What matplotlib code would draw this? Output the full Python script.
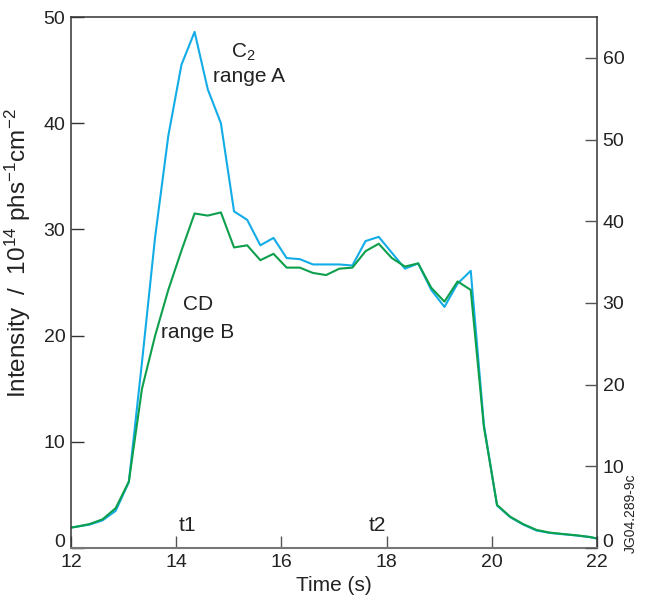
import matplotlib
matplotlib.use("Agg")
import matplotlib.pyplot as plt
import matplotlib.transforms as mtransforms

plt.rcParams['font.family'] = ['Liberation Sans', 'DejaVu Sans']
plt.rcParams['mathtext.fontset'] = 'custom'
plt.rcParams['mathtext.rm'] = 'Liberation Sans'
plt.rcParams['mathtext.it'] = 'Liberation Sans:italic'

# time base (s)
time = [11.85, 12.1, 12.35, 12.6, 12.85, 13.1, 13.35, 13.6, 13.85, 14.1,
        14.35, 14.6, 14.85, 15.1, 15.35, 15.6, 15.85, 16.1, 16.35, 16.6,
        16.85, 17.1, 17.35, 17.6, 17.85, 18.1, 18.35, 18.6, 18.85, 19.1,
        19.35, 19.6, 19.85, 20.1, 20.35, 20.6, 20.85, 21.1, 21.35, 21.6,
        21.85, 22.1]

# C2, range A
c2 = [1.8, 2.0, 2.2, 2.6, 3.5, 6.2, 17.5, 29.3, 38.8, 45.5,
      48.6, 43.2, 40.0, 31.7, 30.9, 28.5, 29.2, 27.3, 27.2, 26.7,
      26.7, 26.7, 26.6, 28.9, 29.3, 27.8, 26.3, 26.8, 24.3, 22.7,
      24.9, 26.1, 11.6, 4.0, 2.9, 2.2, 1.65, 1.42, 1.3, 1.18,
      1.03, 0.8]

# CD, range B
cd = [1.8, 2.0, 2.25, 2.7, 3.75, 6.25, 15.0, 20.0, 24.3, 28.0,
      31.5, 31.3, 31.6, 28.3, 28.5, 27.1, 27.7, 26.4, 26.4, 25.9,
      25.7, 26.3, 26.4, 27.95, 28.65, 27.3, 26.5, 26.8, 24.5, 23.2,
      25.1, 24.3, 11.4, 4.05, 2.95, 2.24, 1.7, 1.45, 1.32, 1.2,
      1.05, 0.8]

left_ticks = [0, 10, 20, 30, 40, 50]
right_ticks = [0, 10, 20, 30, 40, 50, 60]
x_ticks = [12, 14, 16, 18, 20, 22]

blue = '#12ACE6'
green = '#0E9F4C'
txt = '#222222'

fig = plt.figure(figsize=(6.47, 6.01), dpi=100)
ax = fig.add_axes([0.1097, 0.0882, 0.8130, 0.8835])

ax.plot(time, c2, color=blue, lw=1.5)
ax.plot(time, cd, color=green, lw=1.5)

ax.set_xlim(12, 22)
ax.set_ylim(0, 50)
ax.set_xticks(x_ticks)
ax.set_yticks(left_ticks)
ax.tick_params(direction='in', length=9, width=1, labelsize=14, pad=4,
               color='#333333', labelcolor=txt)
ax.tick_params(axis='x', color='#555555')
for s in ax.spines.values():
    s.set_linewidth(1.1)
    s.set_color('#333333')
ax.spines['bottom'].set_color('#777777')
ax.spines['bottom'].set_linewidth(1.5)

ax2 = ax.twinx()
ax2.set_ylim(0, 65)
ax2.set_yticks(right_ticks)
ax2.tick_params(direction='in', length=9, width=1, labelsize=14, pad=4,
                color='#555555', labelcolor=txt)
for s in ax2.spines.values():
    s.set_visible(False)

# raise the two "0" labels a little, as in the original
lift = mtransforms.ScaledTranslation(0, 7 / 100, fig.dpi_scale_trans)
lab = ax.yaxis.get_major_ticks()[0].label1
lab.set_transform(lab.get_transform() + lift)
lab = ax2.yaxis.get_major_ticks()[0].label2
lab.set_transform(lab.get_transform() + lift)

ax.set_xlabel('Time (s)', fontsize=15, labelpad=4, color=txt)
ax.set_ylabel('Intensity  /  10$^{14}$ phs$^{-1}$cm$^{-2}$',
              fontsize=17.5, color=txt)
ax.yaxis.set_label_coords(-0.072, 0.556)

ax.text(15.27, 46.7, 'C$_2$', fontsize=15, ha='center', va='center', color=txt)
ax.text(15.39, 44.4, 'range A', fontsize=15, ha='center', va='center', color=txt)
ax.text(14.41, 22.9, 'CD', fontsize=15, ha='center', va='center', color=txt)
ax.text(14.41, 20.3, 'range B', fontsize=15, ha='center', va='center', color=txt)
ax.text(14.22, 2.1, 't1', fontsize=15, ha='center', va='center', color=txt)
ax.text(17.83, 2.1, 't2', fontsize=15, ha='center', va='center', color=txt)

fig.text(0.975, 0.146, 'JG04.289-9c', fontsize=10, rotation=90,
         ha='center', va='center', color=txt)

fig.savefig('out.png', dpi=100)
